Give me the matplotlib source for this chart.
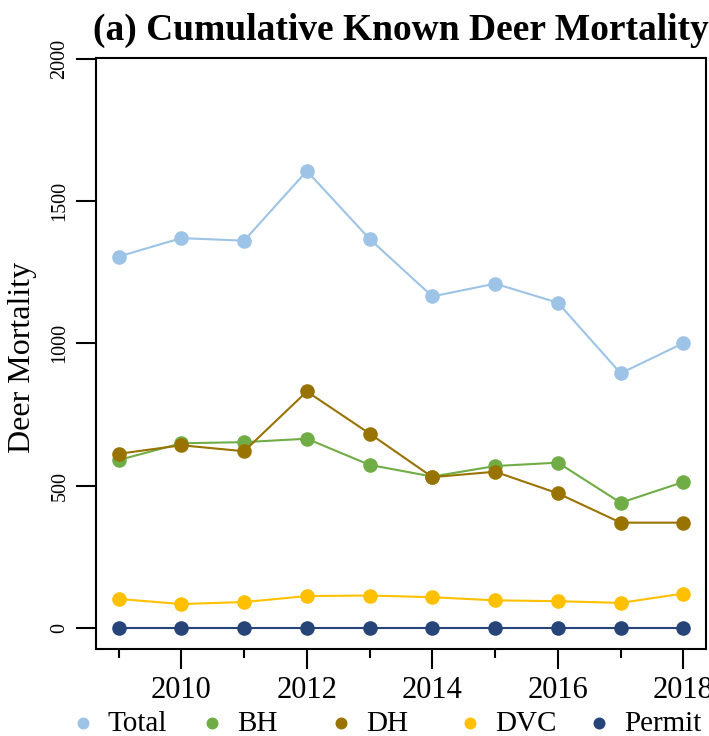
import matplotlib
matplotlib.use("Agg")
import matplotlib.pyplot as plt
from matplotlib.lines import Line2D

plt.rcParams['font.family'] = ['Liberation Serif', 'DejaVu Serif']

years = [2009, 2010, 2011, 2012, 2013, 2014, 2015, 2016, 2017, 2018]
total = [1305, 1370, 1361, 1606, 1367, 1165, 1210, 1143, 895, 1001]
bh = [590, 649, 653, 665, 573, 532, 569, 581, 440, 513]
dh = [612, 642, 621, 831, 683, 530, 549, 473, 370, 370]
dvc = [102, 84, 91, 112, 114, 108, 97, 94, 88, 121]
permit = [0, 0, 0, 0, 0, 0, 0, 0, 0, 0]

series_names = ["Total", "BH", "DH", "DVC", "Permit"]
series_vals = [total, bh, dh, dvc, permit]
colors = ["#9DC3E6", "#70AD47", "#997300", "#FFC000", "#264478"]

y_ticks = [0, 500, 1000, 1500, 2000]
x_major = [2010, 2012, 2014, 2016, 2018]
x_minor = [2009, 2011, 2013, 2015, 2017]

W, H = 709, 736
fig = plt.figure(figsize=(W / 100, H / 100), dpi=100)
ax = fig.add_axes([96 / W, (H - 649) / H, 610 / W, 591 / H])

for name, vals, c in zip(series_names, series_vals, colors):
    ax.plot(years, vals, color=c, lw=1.5, marker='o', ms=10.5,
            markeredgewidth=0, label=name)

ax.set_xlim(2008.64, 2018.36)
ax.set_ylim(-74, 2003)

for s in ax.spines.values():
    s.set_linewidth(1.5)

ax.set_yticks(y_ticks)
ax.set_yticklabels([str(v) for v in y_ticks], rotation=90, va='center',
                   fontsize=14.5)
ax.tick_params(axis='y', length=14.5, width=1.5, pad=4.5)

ax.set_xticks(x_major)
ax.set_xticks(x_minor, minor=True)
ax.set_xticklabels([str(v) for v in x_major], fontsize=22)
ax.tick_params(axis='x', which='major', length=14.5, width=1.5, pad=5)
ax.tick_params(axis='x', which='minor', length=6.5, width=1.5)

ax.set_title("(a) Cumulative Known Deer Mortality", fontsize=27,
             fontweight='bold', pad=13)

fig.text(23 / W, (H - 357) / H, "Deer Mortality", fontsize=23,
         rotation=90, ha='center', va='center')

# legend along the bottom
for i, (name, c) in enumerate(zip(series_names, colors)):
    mx = (83 + 129 * i) / W
    fig.add_artist(Line2D([mx], [(H - 722.5) / H], transform=fig.transFigure,
                          marker='o', ms=8.6, color=c, markeredgewidth=0,
                          linestyle='none'))
    fig.text(mx + 25 / W, (H - 731) / H, name, fontsize=21,
             ha='left', va='baseline')

fig.savefig("out.png", dpi=100)
